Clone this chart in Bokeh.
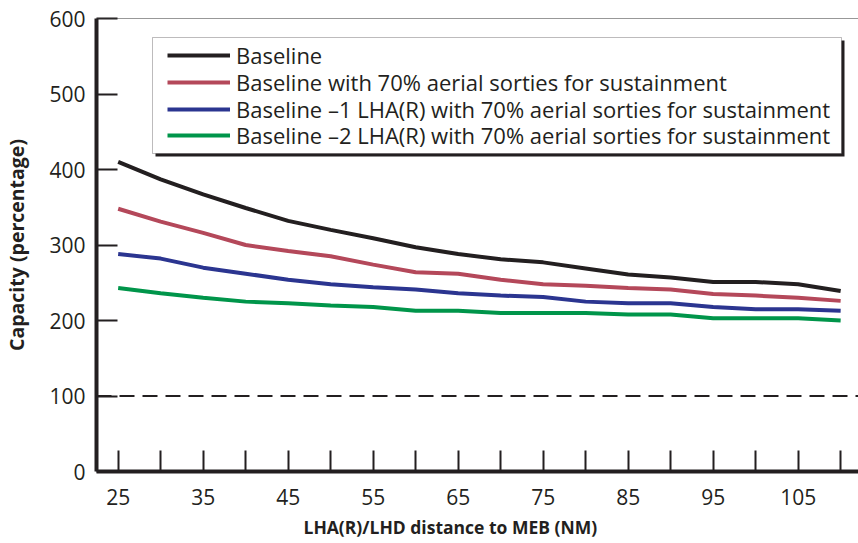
from bokeh.plotting import figure
from bokeh.models import (Range1d, FixedTicker, Span, BoxAnnotation, Legend,
                          LegendItem, Title)
from bokeh.embed import file_html
from bokeh.resources import INLINE

# ---- data ----
distance = [25, 30, 35, 40, 45, 50, 55, 60, 65, 70, 75, 80, 85, 90, 95, 100, 105, 110]
baseline = [410, 387, 367, 349, 332, 320, 309, 297, 288, 281, 277, 269, 261, 257, 251, 251, 248, 239]
baseline_70 = [348, 331, 316, 300, 292, 285, 274, 264, 262, 254, 248, 246, 243, 241, 235, 233, 230, 226]
minus1_70 = [288, 282, 270, 262, 254, 248, 244, 241, 236, 233, 231, 225, 223, 223, 218, 215, 215, 213]
minus2_70 = [243, 236, 230, 225, 223, 220, 218, 213, 213, 210, 210, 210, 208, 208, 203, 203, 203, 200]

series_names = [
    "Baseline",
    "Baseline with 70% aerial sorties for sustainment",
    "Baseline \u20131 LHA(R) with 70% aerial sorties for sustainment",
    "Baseline \u20132 LHA(R) with 70% aerial sorties for sustainment",
]
series_values = [baseline, baseline_70, minus1_70, minus2_70]
series_colors = ["#231f20", "#b4485a", "#2b3590", "#00954a"]

x_label_ticks = [25, 35, 45, 55, 65, 75, 85, 95, 105]
x_minor_ticks = [30, 40, 50, 60, 70, 80, 90, 100, 110]
y_ticks = [0, 100, 200, 300, 400, 500, 600]
reference_level = 100

x_title = "LHA(R)/LHD distance to MEB (NM)"
y_title = "Capacity (percentage)"

INK = "#231f20"
FONT = "Open Sans"

p = figure(width=858, height=543,
           x_range=Range1d(22.45, 112.1), y_range=Range1d(0, 600),
           output_backend="svg", toolbar_location=None,
           min_border_left=95, min_border_right=0,
           min_border_top=18, min_border_bottom=71)
p.xgrid.visible = False
p.ygrid.visible = False
p.outline_line_color = None
p.background_fill_color = "white"

# x axis
xa = p.xaxis[0]
xa.ticker = FixedTicker(ticks=x_label_ticks, minor_ticks=x_minor_ticks)
xa.axis_line_width = 4
xa.axis_line_color = INK
xa.major_tick_in = 21
xa.major_tick_out = 0
xa.minor_tick_in = 21
xa.minor_tick_out = 0
xa.major_tick_line_width = 2
xa.minor_tick_line_width = 2
xa.major_tick_line_color = INK
xa.minor_tick_line_color = INK
xa.major_label_text_font = FONT
xa.major_label_text_font_size = "21px"
xa.major_label_text_color = INK
xa.major_label_standoff = 17

# y axis
ya = p.yaxis[0]
ya.ticker = FixedTicker(ticks=y_ticks)
ya.axis_line_width = 4
ya.axis_line_color = INK
ya.major_tick_in = 21
ya.major_tick_out = 0
ya.minor_tick_line_color = None
ya.major_tick_line_width = 2
ya.major_tick_line_color = INK
ya.major_label_text_font = FONT
ya.major_label_text_font_size = "21px"
ya.major_label_text_color = INK
ya.major_label_standoff = 11
ya.axis_label = y_title
ya.axis_label_text_font = FONT
ya.axis_label_text_font_size = "19.5px"
ya.axis_label_text_font_style = "bold"
ya.axis_label_text_color = INK
ya.axis_label_standoff = 16

# x title (left of centre, as in the reference)
p.add_layout(Title(text=x_title, align="left", offset=207,
                   text_font=FONT, text_font_size="17.5px",
                   text_font_style="bold", text_color=INK, standoff=10), "below")

# top border line
p.add_layout(Span(location=600, dimension="width", line_color="#333333", line_width=1.2))

# 100% reference line
p.add_layout(Span(location=reference_level, dimension="width", line_color=INK,
                  line_width=2, line_dash="15 8"))

renderers = []
for vals, col in zip(series_values, series_colors):
    r = p.line(distance, vals, line_width=4, line_color=col)
    renderers.append(r)

# legend box with shadow (screen units, relative to frame)
L, R, B, T = 56, 745, 318, 434
p.add_layout(BoxAnnotation(left=L + 3, right=R + 3, bottom=B - 3, top=T - 3,
                           left_units="screen", right_units="screen",
                           bottom_units="screen", top_units="screen",
                           fill_color=INK, fill_alpha=1, line_color=None))
p.add_layout(BoxAnnotation(left=L, right=R, bottom=B, top=T,
                           left_units="screen", right_units="screen",
                           bottom_units="screen", top_units="screen",
                           fill_color="white", fill_alpha=1,
                           line_color=INK, line_width=1))

# one single-entry legend per row, for exact row spacing
row_bottoms = [401, 374, 347, 321]
for n, r, yb in zip(series_names, renderers, row_bottoms):
    lg = Legend(items=[LegendItem(label=n, renderers=[r])],
                location=(71, yb), margin=0, padding=0,
                border_line_color=None, background_fill_alpha=0,
                glyph_width=63, glyph_height=26, label_height=26,
                label_standoff=6, spacing=0,
                label_text_font=FONT, label_text_font_size="22px",
                label_text_color=INK)
    p.add_layout(lg)

open("out.html", "w").write(file_html(p, INLINE))
